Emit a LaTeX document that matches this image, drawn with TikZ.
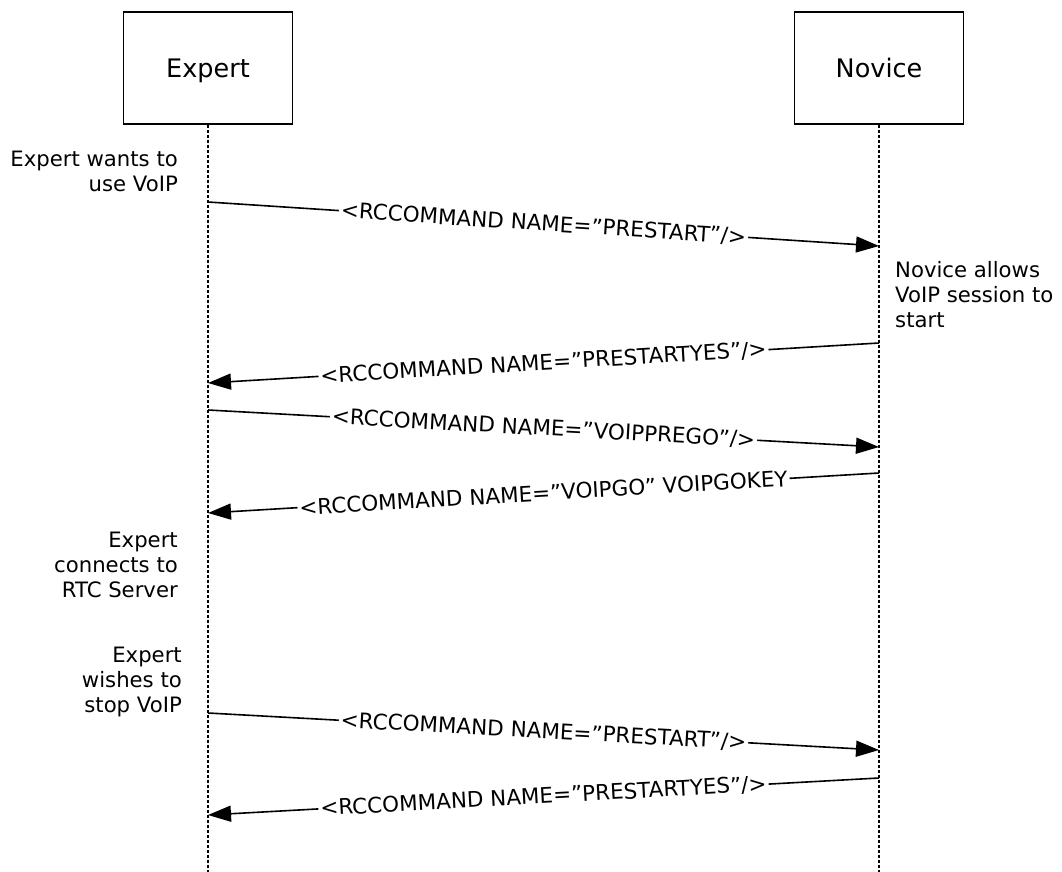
\documentclass[tikz,border=0pt]{standalone}
\usepackage{fontspec}
\setmainfont{DejaVu Sans}
\usepackage{xcolor}
\usepackage{tikz}
\usetikzlibrary{arrows.meta}
\definecolor{seqink}{RGB}{0,0,0}
\tikzset{
  actor/.style={draw=seqink,line width=1.5pt,minimum width=169pt,minimum height=112pt,text height=19pt,text depth=0pt,font=\fontsize{25.5}{30}\selectfont},
  life/.style={seqink,line width=1.2pt,dash pattern=on 3pt off 2pt},
  msg/.style={seqink,line width=1.6pt,-{Triangle[length=23pt,width=16pt]}},
  msglbl/.style={sloped,fill=white,inner sep=2pt,font=\fontsize{21.5}{25}\selectfont},
  note/.style={seqink,inner sep=0pt,font=\fontsize{21.2}{25}\selectfont}
}

\begin{document}
\begin{tikzpicture}[x=1pt,y=-1pt]
        \useasboundingbox (0,0) rectangle (1062,872);
        \node[actor] (expert) at (208,68) {Expert};
        \node[actor] (novice) at (879,68) {Novice};
        \coordinate (expertend) at (208,872);
        \coordinate (noviceend) at (879,872);
        \draw[life] (expert) -- (expertend);
        \draw[life] (novice) -- (noviceend);
        % points on the lifelines
        \coordinate (e1) at (208,202); \coordinate (n1) at (879,246);
        \coordinate (n2) at (879,343); \coordinate (e2) at (208,383);
        \coordinate (e3) at (208,410); \coordinate (n3) at (879,447);
        \coordinate (n4) at (879,473); \coordinate (e4) at (208,513);
        \coordinate (e5) at (208,713); \coordinate (n5) at (879,750);
        \coordinate (n6) at (879,778); \coordinate (e6) at (208,815);
        % messages
        \draw[msg] (e1) -- node[msglbl]{<RCCOMMAND NAME=”PRESTART”/>} (n1);
        \draw[msg] (n2) -- node[msglbl]{<RCCOMMAND NAME=”PRESTARTYES”/>} (e2);
        \draw[msg] (e3) -- node[msglbl]{<RCCOMMAND NAME=”VOIPPREGO”/>} (n3);
        \draw[msg] (n4) -- node[msglbl]{<RCCOMMAND NAME=”VOIPGO” VOIPGOKEY} (e4);
        \draw[msg] (e5) -- node[msglbl]{<RCCOMMAND NAME=”PRESTART”/>} (n5);
        \draw[msg] (n6) -- node[msglbl]{<RCCOMMAND NAME=”PRESTARTYES”/>} (e6);
        % notes
        \node[note,align=right,anchor=north east] (wantvoip) at (178,151) {Expert wants to\\use VoIP};
        \node[note,align=left,anchor=north west] (allowvoip) at (895,261) {Novice allows\\VoIP session to\\start};
        \node[note,align=right,anchor=north east] (connectrtc) at (178,532) {Expert\\connects to\\RTC Server};
        \node[note,align=right,anchor=north east] (stopvoip) at (182,647) {Expert\\wishes to\\stop VoIP};
      \end{tikzpicture}
\end{document}
